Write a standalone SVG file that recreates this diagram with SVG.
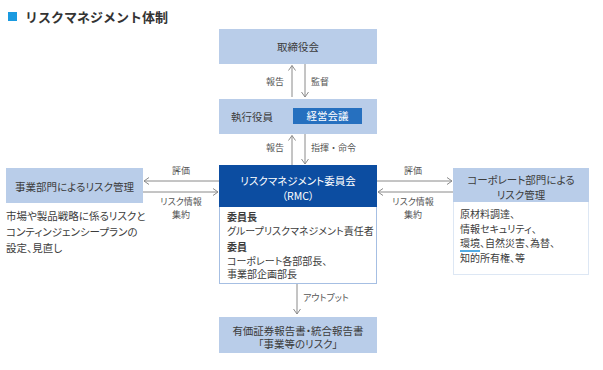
<svg xmlns="http://www.w3.org/2000/svg" width="603" height="370" viewBox="0 0 603 370">
<defs>
<style>
text{font-family:"Noto Sans CJK JP","Noto Sans",sans-serif;fill:#3c3c3c;font-feature-settings:"palt";}
.box{fill:#b9cde9;}
.t{font-size:10.5px;}
.s{font-size:10px;}
.c{text-anchor:middle;}
.lbl{font-size:9px;fill:#555;}
.np{font-feature-settings:normal;}
.w{fill:#fff;}
.b{font-weight:bold;}
.ar{stroke:#8a8a8a;stroke-width:1;fill:none;}
</style>
<marker id="ah" viewBox="0 0 6 8" refX="5.5" refY="4" markerWidth="6" markerHeight="8" markerUnits="userSpaceOnUse" orient="auto">
<path d="M0.5,0.5 L5.5,4 L0.5,7.5" fill="none" stroke="#8a8a8a" stroke-width="1"/>
</marker>
</defs>
<rect width="603" height="370" fill="#fff"/>
<g id="title">
<rect x="8" y="12" width="9" height="9" fill="#1a9ae0"/>
<text class="np" x="25" y="21.5" style="font-size:13px;font-weight:bold;fill:#333">リスクマネジメント体制</text>
</g>
<g id="connectors">
<line class="ar" x1="292" y1="97" x2="292" y2="65.5" marker-end="url(#ah)"/>
<line class="ar" x1="305" y1="64" x2="305" y2="97" marker-end="url(#ah)"/>
<line class="ar" x1="292" y1="165" x2="292" y2="135.5" marker-end="url(#ah)"/>
<line class="ar" x1="305" y1="134" x2="305" y2="164" marker-end="url(#ah)"/>
<line class="ar" x1="219" y1="181" x2="144" y2="181" marker-end="url(#ah)"/>
<line class="ar" x1="143" y1="192" x2="218" y2="192" marker-end="url(#ah)"/>
<line class="ar" x1="377" y1="181" x2="452" y2="181" marker-end="url(#ah)"/>
<line class="ar" x1="453" y1="192" x2="378" y2="192" marker-end="url(#ah)"/>
<line class="ar" x1="297" y1="284" x2="297" y2="314" marker-end="url(#ah)"/>
<text class="lbl np" x="266" y="85">報告</text>
<text class="lbl np" x="311" y="85">監督</text>
<text class="lbl np" x="266" y="151">報告</text>
<text class="lbl np" x="311" y="151">指揮・命令</text>
<text class="lbl c" x="181" y="174">評価</text>
<text class="lbl c" x="181" y="205">リスク情報</text>
<text class="lbl c" x="181" y="218">集約</text>
<text class="lbl c" x="413" y="174">評価</text>
<text class="lbl c" x="413" y="205">リスク情報</text>
<text class="lbl c" x="413" y="218">集約</text>
<text class="lbl" x="303" y="301">アウトプット</text>
</g>
<g id="board">
<rect class="box" x="219" y="29" width="158" height="35"/>
<text class="t c" x="298" y="50.5">取締役会</text>
</g>
<g id="exec">
<rect class="box" x="219" y="99" width="158" height="35"/>
<text class="t" x="231" y="120.5">執行役員</text>
<rect x="293" y="108" width="69" height="16" fill="#2670bf"/>
<text class="t c w" x="327.5" y="120">経営会議</text>
</g>
<g id="rmc">
<rect x="219.5" y="165.5" width="157" height="118" fill="#fff" stroke="#a6bfe3" stroke-width="1"/>
<rect x="219" y="165" width="158" height="42" fill="#0c4da1"/>
<text class="t c w" x="298" y="185">リスクマネジメント委員会</text>
<text class="t c w" x="298" y="200">（RMC）</text>
<text class="s b" x="227" y="221">委員長</text>
<text class="s" x="227" y="234.5">グループリスクマネジメント責任者</text>
<text class="s b" x="227" y="251">委員</text>
<text class="s" x="227" y="264.5">コーポレート各部部長、</text>
<text class="s" x="227" y="278">事業部企画部長</text>
</g>
<g id="business">
<rect class="box" x="6" y="168" width="137" height="35"/>
<text class="t c" x="74.5" y="190.5">事業部門によるリスク管理</text>
<text class="t" x="6" y="220">市場や製品戦略に係るリスクと</text>
<text class="t" x="6" y="236">コンティンジェンシープランの</text>
<text class="t" x="6" y="252">設定、見直し</text>
</g>
<g id="corporate">
<rect x="453.5" y="168.5" width="135" height="106" fill="#fff" stroke="#dde7f4" stroke-width="1"/>
<rect class="box" x="453" y="168" width="136" height="34"/>
<text class="t c" x="521" y="183.5">コーポレート部門による</text>
<text class="t c" x="521" y="198.5">リスク管理</text>
<text class="s" x="460" y="218">原材料調達、</text>
<text class="s" x="460" y="232.5">情報セキュリティ、</text>
<text class="s" x="460" y="247">環境、自然災害、為替、</text>
<line x1="460" y1="251" x2="480" y2="251" stroke="#1a8fd8" stroke-width="1.5"/>
<text class="s" x="460" y="261.5">知的所有権、等</text>
</g>
<g id="output">
<rect class="box" x="219" y="317" width="158" height="36"/>
<text class="t c" x="298" y="334.5">有価証券報告書・統合報告書</text>
<text class="t c" x="298" y="348">「事業等のリスク」</text>
</g>
</svg>
